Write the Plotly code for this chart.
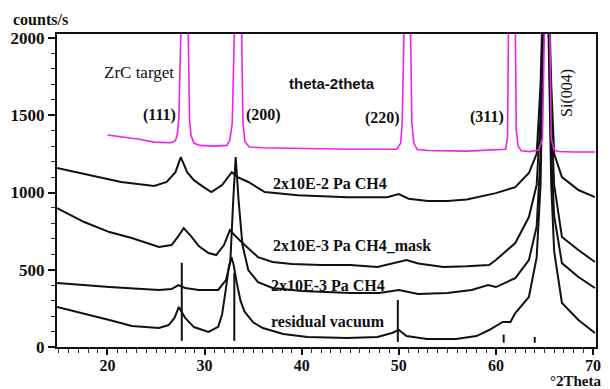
import plotly.graph_objects as go

# ---------------- data ----------------
# ZrC target, theta-2theta (magenta)
zrc_x = [20.0, 21.5, 23.1, 24.8, 26.5, 27.0, 27.2, 27.35, 27.5, 27.7, 28.1, 28.3, 28.45, 28.6, 28.9,
         29.5, 31.0, 32.3, 32.6, 32.85, 33.0, 33.2, 33.6, 33.8, 33.95, 34.15, 34.6, 36.0, 40.0, 45.0,
         49.8, 50.2, 50.35, 50.5, 50.7, 51.0, 51.2, 51.35, 51.55, 51.9, 53.0, 57.0, 61.0, 61.2, 61.3,
         61.45, 61.85, 62.0, 62.1, 62.3, 62.6, 63.5, 64.4, 64.8, 64.95, 65.1, 65.4, 65.55, 65.7, 66.0,
         66.5, 68.0, 70.2]
zrc_y = [1372, 1360, 1346, 1326, 1322, 1335, 1380, 1480, 2100, 3500, 3500, 2100, 1480, 1370, 1320,
         1305, 1300, 1305, 1340, 1450, 2100, 3500, 3500, 2100, 1450, 1330, 1295, 1290, 1285, 1280,
         1280, 1320, 1450, 2100, 3500, 3500, 2100, 1450, 1320, 1278, 1272, 1268, 1280, 1360, 2100,
         3500, 3500, 2100, 1400, 1300, 1270, 1265, 1275, 1350, 2100, 3500, 3500, 2100, 1350, 1275,
         1265, 1262, 1262]

# 2x10E-2 Pa CH4
a_x = [14.8, 18.0, 21.4, 24.8, 26.1, 27.0, 27.55, 28.2, 28.9, 29.9, 30.7, 31.8, 32.5, 32.8, 33.4,
       34.5, 36.2, 39.6, 44.7, 48.8, 50.0, 51.0, 53.0, 55.0, 57.0, 58.5, 60.0, 62.0, 63.4, 64.2,
       64.6, 64.9, 65.15, 65.4, 65.7, 66.0, 66.8, 68.5, 70.2]
a_y = [1158, 1113, 1068, 1042, 1068, 1132, 1229, 1132, 1080, 1035, 1003, 1048, 1106, 1132, 1100,
       1068, 1003, 983, 970, 970, 990, 960, 945, 945, 955, 975, 996, 1035, 1126, 1250,
       1700, 2400, 3200, 2400, 1700, 1250, 1100, 1016, 970]

# 2x10E-3 Pa CH4_mask
b_x = [14.8, 17.6, 20.2, 22.5, 25.3, 26.6, 27.3, 27.85, 28.6, 29.4, 30.4, 31.2, 32.0, 32.6, 33.0,
       33.8, 35.5, 37.0, 39.0, 42.0, 45.0, 47.8, 50.8, 52.0, 54.6, 57.0, 59.3, 60.0, 62.0, 63.4,
       64.2, 64.6, 64.9, 65.15, 65.4, 65.7, 66.0, 66.8, 68.5, 70.2]
b_y = [899, 809, 744, 705, 647, 660, 718, 770, 718, 653, 608, 595, 660, 757, 730,
       679, 582, 550, 537, 530, 530, 518, 563, 540, 518, 522, 531, 563, 673, 841,
       1050, 1500, 2300, 3100, 2300, 1500, 1050, 712, 628, 550]

# 2x10E-3 Pa CH4
c_x = [14.8, 20.2, 25.3, 26.6, 27.3, 28.0, 29.4, 31.4, 32.2, 32.65, 32.95, 33.2, 33.5, 33.9, 34.5,
       35.5, 37.0, 40.0, 45.0, 48.0, 50.0, 52.0, 55.0, 57.5, 59.2, 60.0, 62.0, 63.4, 64.2, 64.6,
       64.9, 65.15, 65.4, 65.7, 66.0, 66.8, 68.5, 70.2]
c_y = [414, 388, 369, 375, 401, 382, 369, 369, 433, 550, 951, 1229, 951, 660, 498,
       420, 382, 362, 349, 349, 369, 343, 349, 369, 401, 388, 446, 563, 780, 1250,
       2200, 3000, 2200, 1250, 850, 543, 453, 382]

# residual vacuum
d_x = [14.8, 17.4, 20.2, 22.5, 25.3, 26.3, 26.9, 27.35, 28.0, 28.9, 30.4, 31.4, 31.8, 32.2, 32.5,
       32.76, 33.0, 33.3, 33.7, 34.1, 35.0, 36.0, 38.1, 40.6, 44.7, 47.8, 49.3, 50.0, 50.8, 52.9,
       55.9, 58.0, 59.3, 60.7, 61.5, 62.0, 63.4, 64.2, 64.6, 64.9, 65.15, 65.4, 65.7, 66.0, 66.8,
       68.5, 70.2]
d_y = [259, 220, 175, 136, 123, 142, 188, 259, 188, 129, 97, 130, 210, 380, 520,
       582, 530, 420, 300, 230, 160, 123, 84, 65, 58, 65, 91, 110, 71, 52,
       52, 71, 110, 162, 162, 220, 324, 580, 1050, 2100, 2900, 2100, 1050, 620, 285,
       175, 91]

# reference stick lines
stick_pos = [27.65, 33.06, 49.9, 60.8, 64.0]
stick_top = [545, 480, 304, 80, 65]
stick_base = [40, 40, 32, 28, 28]

x_ticks = [20, 30, 40, 50, 60, 70]
y_ticks = [0, 500, 1000, 1500, 2000]

# ---------------- figure ----------------
fig = go.Figure()

black = "#111111"
for xs, ys in [(a_x, a_y), (b_x, b_y), (c_x, c_y), (d_x, d_y)]:
    fig.add_trace(go.Scatter(x=xs, y=ys, mode="lines",
                             line=dict(color=black, width=2), hoverinfo="skip"))

fig.add_trace(go.Scatter(x=zrc_x, y=zrc_y, mode="lines",
                         line=dict(color="#ee22ee", width=1.6), hoverinfo="skip"))

sx, sy = [], []
for p, t, b in zip(stick_pos, stick_top, stick_base):
    sx += [p, p, None]
    sy += [b, t, None]
fig.add_trace(go.Scatter(x=sx, y=sy, mode="lines",
                         line=dict(color=black, width=2), hoverinfo="skip"))

serif = "Liberation Serif"
def ann(text, x, y, size=16, bold=True, family=serif, xanchor="center", yanchor="middle",
        angle=0, xref="x", yref="y"):
    fig.add_annotation(x=x, y=y, xref=xref, yref=yref, text=text, showarrow=False,
                       xanchor=xanchor, yanchor=yanchor, textangle=angle, borderpad=0,
                       font=dict(family=family, size=size, color="#111111",
                                 weight="bold" if bold else "normal"))

ann("ZrC target", 23.27, 1779, size=17, bold=False)
ann("(111)", 25.36, 1501)
ann("(200)", 36.07, 1501)
ann("(220)", 48.32, 1482)
ann("(311)", 59.13, 1488)
ann("theta-2theta", 43.11, 1708, size=15, family="Liberation Sans")
ann("Si(004)", 67.3, 1643, size=16, bold=False, angle=-90)
ann("2x10E-2 Pa CH4", 36.94, 1061, xanchor="left")
ann("2x10E-3 Pa CH4_mask", 36.94, 660, xanchor="left")
ann("2x10E-3 Pa CH4", 36.74, 401, xanchor="left")
ann("residual vacuum", 36.74, 162, xanchor="left")
ann("counts/s", -0.083, 1.045, xanchor="left", xref="paper", yref="paper")
ann("°2Theta", 1.012, -0.137, size=15, xanchor="right", yanchor="bottom", xref="paper", yref="paper")

axis_font = dict(family=serif, size=17, color="#111111", weight="bold")
fig.update_layout(
    width=610, height=389,
    margin=dict(l=57, r=9, t=34, b=42),
    paper_bgcolor="white", plot_bgcolor="white",
    showlegend=False,
    xaxis=dict(range=[14.8, 70.31], tickvals=x_ticks, ticks="outside", ticklen=6, tickwidth=2,
               tickcolor="#111", showline=True, linewidth=2, linecolor="#111", mirror=True,
               showgrid=False, zeroline=False, tickfont=dict(axis_font, size=16),
               ticklabelstandoff=-3,
               minor=dict(dtick=1, ticks="outside", ticklen=4, tickwidth=1, tickcolor="#333",
                          showgrid=False)),
    yaxis=dict(range=[0, 2026], tickvals=y_ticks, ticks="outside", ticklen=7, tickwidth=2,
               tickcolor="#111", showline=True, linewidth=2, linecolor="#111", mirror=True,
               showgrid=False, zeroline=False, tickfont=axis_font,
               minor=dict(dtick=100, ticks="outside", ticklen=4, tickwidth=1, tickcolor="#333",
                          showgrid=False)),
)

fig.write_html("out.html")
